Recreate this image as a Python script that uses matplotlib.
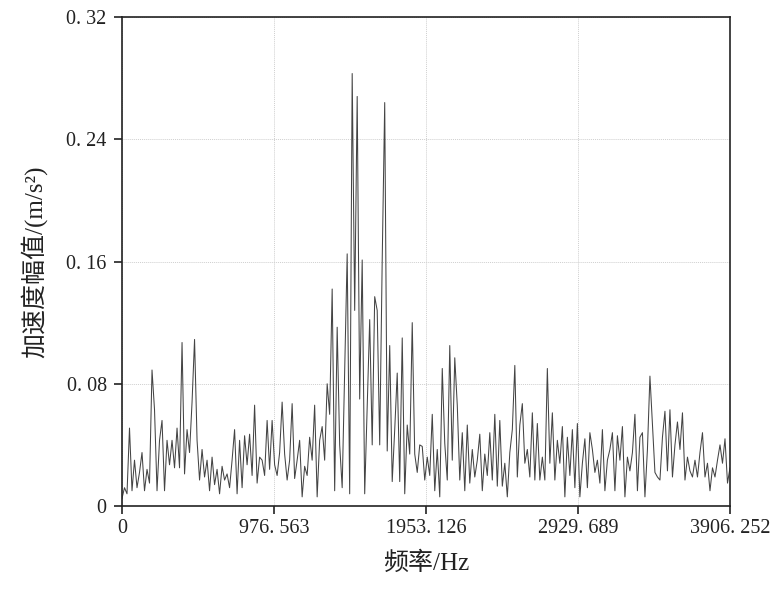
import numpy as np
import matplotlib
matplotlib.use("Agg")
import matplotlib.pyplot as plt

# ---- data (amplitude in 0.001 m/s^2, uniformly spaced from 0 to 3906.252 Hz) ----
f_max = 3906.252
amp_milli = [
    5, 12, 8, 51, 10, 30, 12, 22, 35, 10,
    24, 15, 89, 63, 10, 43, 56, 10, 43, 27,
    43, 25, 51, 25, 107, 21, 50, 35, 68, 109,
    43, 17, 37, 19, 30, 10, 32, 14, 24, 8,
    26, 17, 21, 12, 30, 50, 8, 43, 12, 46,
    27, 47, 20, 66, 15, 32, 30, 20, 56, 24,
    56, 27, 20, 35, 68, 34, 17, 30, 67, 18,
    30, 43, 6, 26, 20, 45, 30, 66, 6, 43,
    52, 30, 80, 60, 142, 10, 117, 40, 12, 89,
    165, 8, 283, 128, 268, 70, 161, 8, 66, 122,
    40, 137, 128, 40, 161, 264, 36, 105, 16, 50,
    87, 16, 110, 8, 53, 34, 120, 34, 22, 40,
    39, 17, 32, 20, 60, 10, 37, 6, 90, 41,
    17, 105, 30, 97, 66, 17, 48, 10, 53, 15,
    37, 19, 30, 47, 10, 34, 20, 48, 17, 60,
    13, 56, 13, 28, 6, 35, 50, 92, 19, 53,
    67, 28, 37, 19, 61, 17, 54, 17, 32, 17,
    90, 28, 61, 17, 43, 28, 52, 6, 45, 20,
    50, 12, 54, 6, 28, 44, 12, 48, 37, 22,
    30, 15, 50, 10, 30, 37, 48, 10, 46, 30,
    52, 6, 32, 23, 35, 60, 10, 45, 48, 6,
    37, 85, 54, 22, 19, 17, 45, 62, 23, 63,
    19, 40, 55, 37, 61, 17, 32, 23, 19, 30,
    19, 35, 48, 19, 28, 10, 25, 19, 30, 40,
    28, 44, 15, 25,
]
x_ticks = [0, 976.563, 1953.126, 2929.689, 3906.252]
x_tick_labels = ["0", "976. 563", "1953. 126", "2929. 689", "3906. 252"]
y_ticks = [0, 0.08, 0.16, 0.24, 0.32]
y_tick_labels = ["0", "0. 08", "0. 16", "0. 24", "0. 32"]
x_label = "频率/Hz"
y_label = "加速度幅值/(m/s²)"

amp = np.array(amp_milli) / 1000.0
freq = np.arange(len(amp)) * (f_max / (len(amp) - 1))

fam = ["Liberation Serif", "Noto Sans CJK SC", "DejaVu Sans"]
plt.rcParams["font.family"] = fam

fig = plt.figure(figsize=(7.79, 5.98), dpi=100)
ax = fig.add_axes([0.1566, 0.1538, 0.7805, 0.8178])

ax.plot(freq, amp, color="#444444", linewidth=0.75)

ax.set_xlim(0, f_max)
ax.set_ylim(0, 0.32)
ax.set_xticks(x_ticks)
ax.set_xticklabels(x_tick_labels)
ax.set_yticks(y_ticks)
ax.set_yticklabels(y_tick_labels)
ax.tick_params(direction="out", length=6, width=1.2, labelsize=14.5, colors="#222222")
ax.tick_params(axis="x", pad=3)
ax.tick_params(axis="y", pad=5)
ax.grid(True, color="#cfcfcf", linestyle=(0, (1, 1)), linewidth=0.7)
for s in ax.spines.values():
    s.set_linewidth(1.2)
    s.set_color("#222222")

ax.set_xlabel(x_label, fontsize=18, color="#222222", labelpad=10)
ax.set_ylabel(y_label, fontsize=18, color="#222222", labelpad=14)

fig.savefig("out.png", dpi=100)
